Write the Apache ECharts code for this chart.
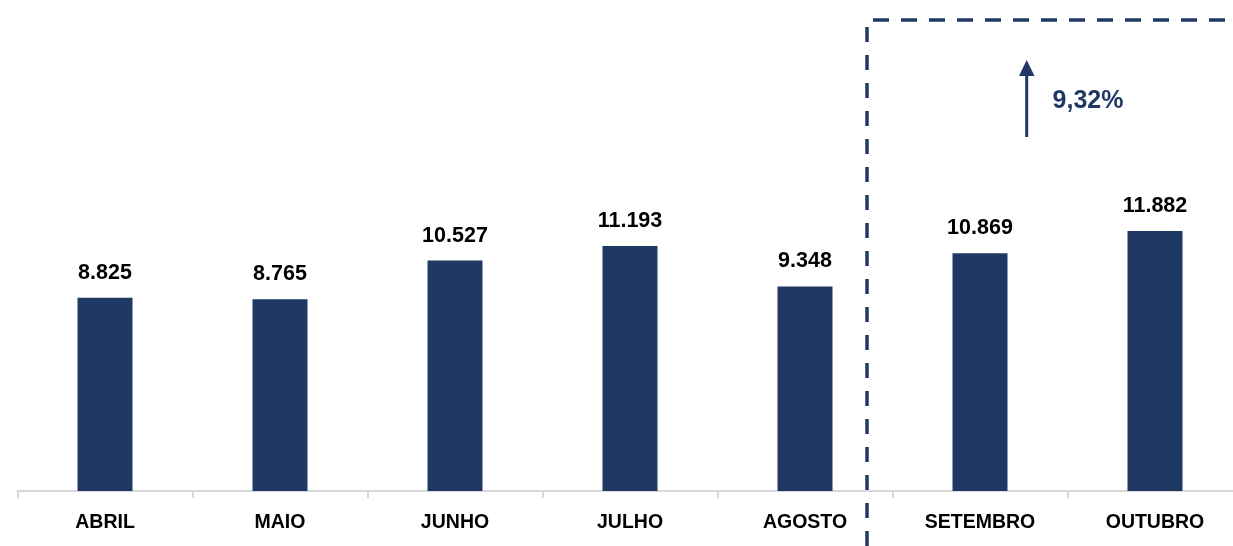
<!DOCTYPE html>
<html>
<head>
<meta charset="utf-8">
<script src="https://cdn.jsdelivr.net/npm/echarts@6/dist/echarts.min.js"></script>
<style>html,body{margin:0;padding:0;background:#fff;}#c{width:1233px;height:546px;}</style>
</head>
<body>
<div id="c"></div>
<script>
const categories = ['ABRIL', 'MAIO', 'JUNHO', 'JULHO', 'AGOSTO', 'SETEMBRO', 'OUTUBRO'];
const values = [8825, 8765, 10527, 11193, 9348, 10869, 11882];

const navy = '#1F3864';
const fmt = v => v.toLocaleString('de-DE');
const growth = ((values[6] / values[5] - 1) * 100).toFixed(2).replace('.', ',') + '%';
const FONT = 'Liberation Sans';

const chart = echarts.init(document.getElementById('c'));
chart.setOption({
  animation: false,
  grid: { left: 17.5, right: -9.5, top: 53.3, bottom: 55, containLabel: false, outerBoundsMode: 'none' },
  xAxis: {
    type: 'category',
    data: categories,
    axisLine: { lineStyle: { color: '#d9d9d9', width: 2 } },
    axisTick: { show: true, length: 7, lineStyle: { color: '#d9d9d9', width: 2 } },
    axisLabel: { color: '#000', fontFamily: FONT, fontWeight: 'bold', fontSize: 19.5, margin: 22 }
  },
  yAxis: { type: 'value', min: 0, max: 20000, show: false, splitLine: { show: false } },
  series: [{
    type: 'bar',
    data: values,
    barWidth: 55,
    itemStyle: { color: navy },
    label: {
      show: true, position: 'top', distance: 14,
      color: '#000', fontFamily: FONT, fontWeight: 'bold', fontSize: 21.5,
      formatter: p => fmt(p.value)
    }
  }],
  graphic: [
    { type: 'line', shape: { x1: 867, y1: 27, x2: 867, y2: 546 },
      style: { stroke: navy, lineWidth: 3.5, lineDash: [15, 13] } },
    { type: 'line', shape: { x1: 873, y1: 20, x2: 1225, y2: 20 },
      style: { stroke: navy, lineWidth: 3.5, lineDash: [16, 12] } },
    { type: 'line', shape: { x1: 1026.7, y1: 137, x2: 1026.7, y2: 72 },
      style: { stroke: navy, lineWidth: 3 } },
    { type: 'polygon', shape: { points: [[1019, 76], [1034.5, 76], [1026.7, 60]] },
      style: { fill: navy } },
    { type: 'text', x: 1088, y: 101,
      style: { text: growth, fill: navy, font: 'bold 25px "Liberation Sans"', align: 'center', verticalAlign: 'middle' } }
  ]
});
</script>
</body>
</html>
